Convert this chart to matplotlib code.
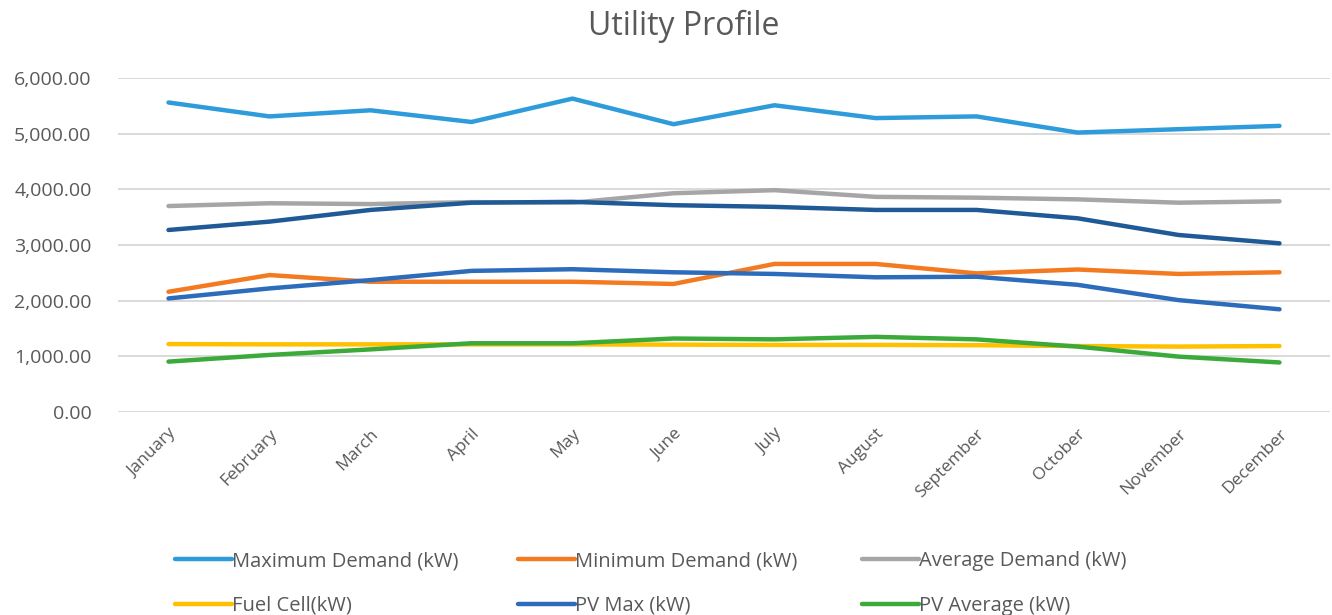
import matplotlib
matplotlib.use("Agg")
import matplotlib.pyplot as plt
from matplotlib.ticker import FuncFormatter

plt.rcParams['font.family'] = ['Open Sans', 'DejaVu Sans']

months = ["January", "February", "March", "April", "May", "June", "July",
          "August", "September", "October", "November", "December"]

max_demand = [5560, 5310, 5420, 5210, 5630, 5170, 5510, 5280, 5310, 5020, 5080, 5140]
min_demand = [2160, 2460, 2340, 2340, 2340, 2300, 2660, 2660, 2490, 2560, 2480, 2510]
avg_demand = [3700, 3750, 3735, 3770, 3760, 3930, 3985, 3865, 3850, 3820, 3760, 3785]
fuel_cell = [1220, 1215, 1215, 1215, 1215, 1210, 1205, 1205, 1200, 1185, 1175, 1185]
pv_max = [2040, 2220, 2370, 2535, 2565, 2510, 2480, 2420, 2430, 2285, 2010, 1845]
pv_average = [905, 1025, 1125, 1235, 1235, 1320, 1305, 1350, 1305, 1175, 995, 890]
# seventh series whose legend entry lies below the visible area in the reference
utility_demand = [3270, 3420, 3630, 3760, 3775, 3715, 3685, 3630, 3630, 3480, 3180, 3030]

series = [
    ("Maximum Demand (kW)", max_demand, "#2E9CDB"),
    ("Minimum Demand (kW)", min_demand, "#F47A22"),
    ("Average Demand (kW)", avg_demand, "#A6A6A6"),
    ("Fuel Cell(kW)", fuel_cell, "#FFC000"),
    ("PV Max (kW)", pv_max, "#2C6CBB"),
    ("PV Average (kW)", pv_average, "#3BAA3A"),
    ("Utility Demand (kW)", utility_demand, "#1F5A96"),
]

W, H = 1332, 615
fig = plt.figure(figsize=(W / 100, H / 100), dpi=100)
ax = fig.add_axes([118 / W, 1 - 412 / H, (1330 - 118) / W, (412 - 78) / H])

x = list(range(len(months)))
handles = {}
for name, vals, col in series:
    ln, = ax.plot(x, vals, color=col, lw=3.2, solid_capstyle='round',
                  solid_joinstyle='round', label=name)
    handles[name] = ln

ax.set_xlim(-0.5, len(months) - 0.5)
ax.set_ylim(0, 6000)
ax.set_yticks(range(0, 6001, 1000))
ax.yaxis.set_major_formatter(FuncFormatter(lambda v, p: f"{v:,.2f}"))
ax.grid(axis='y', color='#D9D9D9', lw=1.4)
ax.set_axisbelow(True)
for s in ax.spines.values():
    s.set_visible(False)
ax.tick_params(axis='y', length=0, pad=19, labelsize=14, labelcolor='#595959')
ax.tick_params(axis='x', length=0, pad=10, labelsize=12.5, labelcolor='#595959')
ax.set_xticks(x)
ax.set_xticklabels(months, rotation=45, ha='right', rotation_mode='anchor')

fig.text(684 / W, 1 - 26 / H, "Utility Profile", ha='center', va='center',
         fontsize=23, color='#595959')

cols = [
    (175, ["Maximum Demand (kW)", "Fuel Cell(kW)"]),
    (518, ["Minimum Demand (kW)", "PV Max (kW)"]),
    (862, ["Average Demand (kW)", "PV Average (kW)"]),
]
for xpx, names in cols:
    leg = fig.legend([handles[n] for n in names], names, loc='upper left',
                     bbox_to_anchor=(xpx / W, 1 - 551 / H), frameon=False,
                     borderpad=0, borderaxespad=0, fontsize=14.5,
                     handlelength=2.85, handletextpad=0.0, labelspacing=1.22)
    for t in leg.get_texts():
        t.set_color('#595959')

fig.savefig("out.png", dpi=100)
